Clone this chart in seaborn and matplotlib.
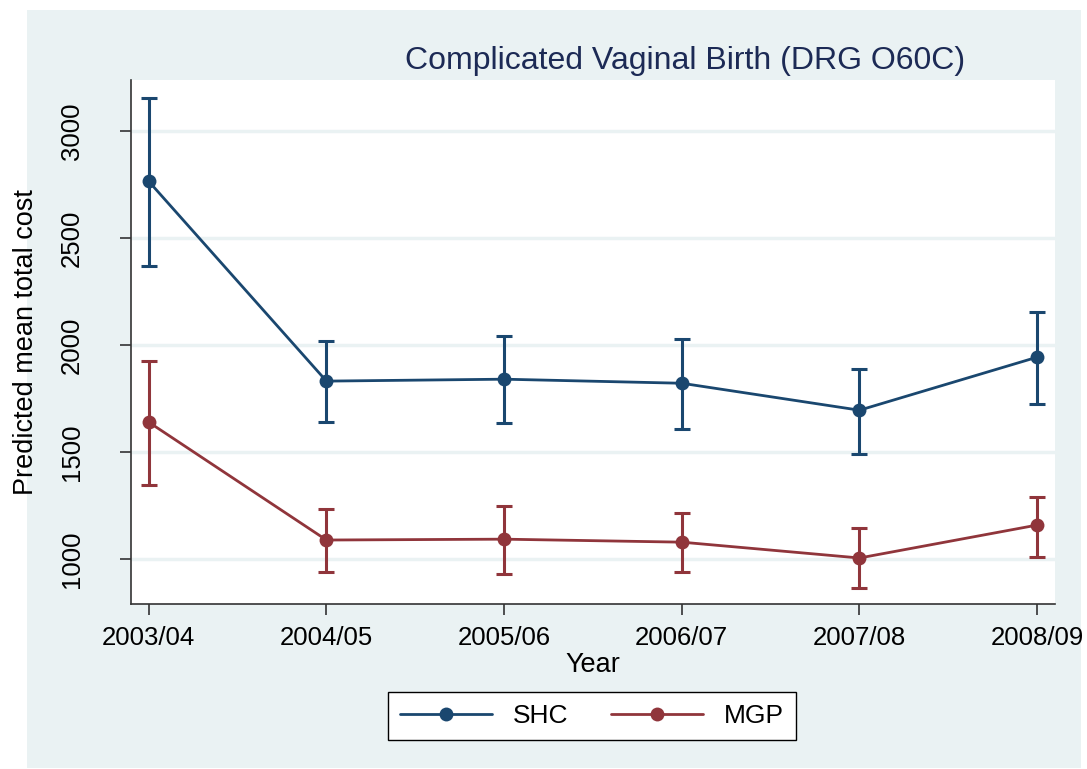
import numpy as np
import pandas as pd
import matplotlib
matplotlib.use("Agg")
import matplotlib.pyplot as plt
from matplotlib.patches import Rectangle
import seaborn as sns

# data
years = ["2003/04", "2004/05", "2005/06", "2006/07", "2007/08", "2008/09"]
shc_mean = [2766, 1832, 1841, 1822, 1696, 1944]
shc_lo = [2369, 1640, 1636, 1607, 1491, 1724]
shc_hi = [3154, 2019, 2042, 2028, 1888, 2154]
mgp_mean = [1640, 1089, 1093, 1079, 1005, 1159]
mgp_lo = [1346, 939, 930, 939, 864, 1009]
mgp_hi = [1925, 1234, 1248, 1215, 1145, 1290]

bg = "#EAF2F3"
colors = {"SHC": "#1A476F", "MGP": "#90353B"}

df = pd.concat([
    pd.DataFrame({"x": range(len(years)), "cost": shc_mean, "lo": shc_lo, "hi": shc_hi, "group": "SHC"}),
    pd.DataFrame({"x": range(len(years)), "cost": mgp_mean, "lo": mgp_lo, "hi": mgp_hi, "group": "MGP"}),
])

sns.set_style("white")
plt.rcParams["font.family"] = ["Liberation Sans", "DejaVu Sans"]
plt.rcParams["text.color"] = "black"
plt.rcParams["axes.labelcolor"] = "black"
plt.rcParams["xtick.color"] = "black"
plt.rcParams["ytick.color"] = "black"

fig = plt.figure(figsize=(10.87, 7.69), dpi=100, facecolor="white")
W, H = 1087, 769
# Stata-style outer panel, with a thin white margin around it
fig.patches.append(Rectangle((27 / W, 1 / H), (1081 - 27) / W, (759 - 1) / H,
                             transform=fig.transFigure, facecolor=bg, edgecolor="none", zorder=-5))

ax = fig.add_axes([0.1205, 0.2146, 0.85, 0.6814])
ax.set_facecolor("white")

for g, sub in df.groupby("group", sort=False):
    ax.errorbar(sub["x"], sub["cost"],
                yerr=[sub["cost"] - sub["lo"], sub["hi"] - sub["cost"]],
                fmt="none", ecolor=colors[g], elinewidth=2.2, capsize=6, capthick=2.2, zorder=2)

sns.lineplot(data=df, x="x", y="cost", hue="group", palette=colors, marker="o",
             markersize=10, markeredgewidth=0, linewidth=2, ax=ax, zorder=3)

ax.set_xlim(-0.1, 5.1)
ax.set_ylim(790, 3240)
ax.set_xticks(range(len(years)))
ax.set_xticklabels(years)
ax.set_yticks([1000, 1500, 2000, 2500, 3000])
ax.tick_params(axis="y", labelrotation=90, labelsize=18.5, length=8, width=1.2,
               direction="out", left=True, pad=26, color="#333333")
ax.tick_params(axis="x", labelsize=18.5, length=8, width=1.2, direction="out",
               bottom=True, pad=8, color="#333333")
for lab in ax.get_yticklabels():
    lab.set_va("center")
ax.grid(axis="y", color=bg, linewidth=2.5)
ax.set_axisbelow(True)

for s in ["top", "right"]:
    ax.spines[s].set_visible(False)
for s in ["left", "bottom"]:
    ax.spines[s].set_color("#333333")
    ax.spines[s].set_linewidth(1.2)

ax.set_xlabel("Year", fontsize=19.5, labelpad=1)
ax.set_ylabel("Predicted mean total cost", fontsize=19.5, labelpad=15)

fig.text(0.63, 1 - 61 / H, "Complicated Vaginal Birth (DRG O60C)", fontsize=23,
         color="#1C2A55", ha="center", va="center")

ax.get_legend().remove()
handles, labels = ax.get_legend_handles_labels()
leg = fig.legend(handles, labels, loc="center", bbox_to_anchor=(592 / W, 1 - 716 / H), ncol=2,
                 fontsize=19, frameon=True, fancybox=False, handlelength=3.5,
                 handletextpad=0.8, columnspacing=1.6, borderpad=0.45, borderaxespad=0)
leg.get_frame().set_edgecolor("black")
leg.get_frame().set_linewidth(1)
leg.get_frame().set_alpha(1)

fig.savefig("out.png", dpi=100, facecolor="white")
